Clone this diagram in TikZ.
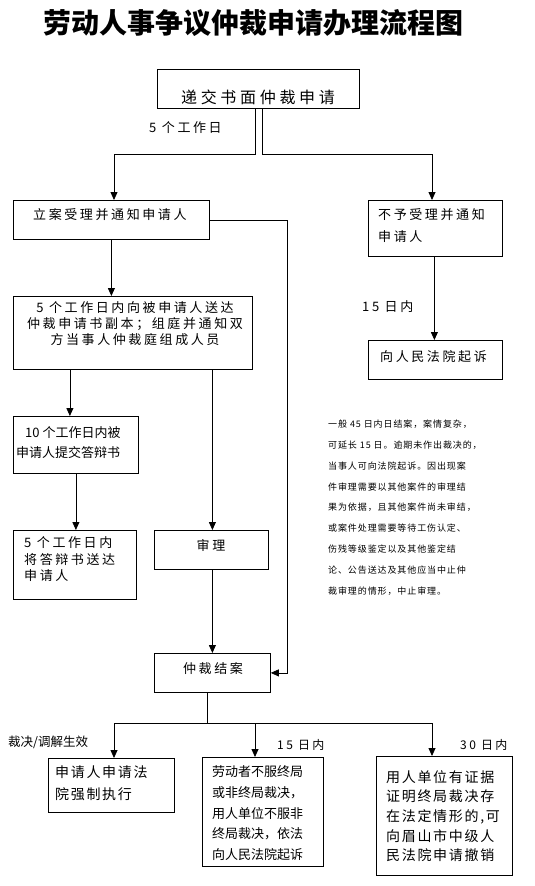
\documentclass[tikz,border=0pt]{standalone}
\usepackage{fontspec}
\usetikzlibrary{arrows.meta}
\newfontfamily\cjk{Noto Sans CJK SC}
\newfontfamily\cjkls{Noto Sans CJK SC}[LetterSpace=20]
\newfontfamily\cjkwide{Noto Sans CJK SC}[LetterSpace=23]
\newfontfamily\cjkmid{Noto Sans CJK SC}[LetterSpace=12]
\newfontfamily\cjknote{Noto Sans CJK SC}[LetterSpace=10]
\begin{document}
\begin{tikzpicture}[x=1pt,y=-1pt,
  box/.style={draw,line width=0.8pt,inner sep=0pt,anchor=north west},
  txt/.style={inner sep=0pt,align=left},
  arr/.style={line width=0.8pt,-{Triangle[width=7pt,length=8pt]}},
  ln/.style={line width=0.8pt},
  f13/.style={font=\cjkls\fontsize{13}{20}\selectfont},
]
\useasboundingbox (0,0) rectangle (535,886);
% title
\node[inner sep=0pt,font=\cjk\bfseries\fontsize{28}{30}\selectfont] (title) at (253,23) {劳动人事争议仲裁申请办理流程图};
% boxes
\node[box,minimum width=202pt,minimum height=39pt] (b1) at (157,69) {};
\node[box,minimum width=196pt,minimum height=39pt] (b2) at (13,200) {};
\node[box,minimum width=134pt,minimum height=56pt] (b3) at (368,200) {};
\node[box,minimum width=239pt,minimum height=73pt] (b4) at (13,296) {};
\node[box,minimum width=134pt,minimum height=39pt] (b5) at (368,340) {};
\node[box,minimum width=125pt,minimum height=57pt] (b6) at (13,416) {};
\node[box,minimum width=123pt,minimum height=69pt] (b7) at (13,530) {};
\node[box,minimum width=114pt,minimum height=39pt] (b8) at (154,530) {};
\node[box,minimum width=116pt,minimum height=39pt] (b9) at (154,653) {};
\node[box,minimum width=126pt,minimum height=54pt] (b10) at (48,758) {};
\node[box,minimum width=121pt,minimum height=109pt] (b11) at (202,757) {};
\node[box,minimum width=136pt,minimum height=119pt] (b12) at (376,756) {};
% box texts
\node[txt,font=\cjkwide\fontsize{16}{20}\selectfont] (t1) at (258,97) {递交书面仲裁申请};
\node[txt,f13,anchor=west] (t2) at (33,215) {立案受理并通知申请人};
\node[txt,anchor=north west,font=\cjkls\fontsize{13}{22}\selectfont] (t3) at (378,208.5) {不予受理并通知\\申请人};
\node[txt,align=center,anchor=north,font=\cjkls\fontsize{13}{16}\selectfont] (t4) at (135,301.5) {5 个工作日内向被申请人送达\\仲裁申请书副本；组庭并通知双\\方当事人仲裁庭组成人员};
\node[txt,f13,anchor=west] (t5) at (380,357) {向人民法院起诉};
\node[txt,anchor=north west,font=\cjk\fontsize{13}{20}\selectfont] (t6) at (16,426.5) {\hspace*{9pt}10 个工作日内被\\申请人提交答辩书};
\node[txt,anchor=north west,font=\cjkls\fontsize{13}{16.5}\selectfont] (t7) at (24,536.5) {5 个工作日内\\将答辩书送达\\申请人};
\node[txt,f13] (t8) at (211,545) {审理};
\node[txt,f13] (t9) at (213,669) {仲裁结案};
\node[txt,anchor=north west,font=\cjkmid\fontsize{14}{22}\selectfont] (t10) at (55,766) {申请人申请法\\院强制执行};
\node[txt,anchor=north west,font=\cjk\fontsize{13}{20.7}\selectfont] (t11) at (212,765.5) {劳动者不服终局\\或非终局裁决，\\用人单位不服非\\终局裁决，依法\\向人民法院起诉};
\node[txt,anchor=north west,font=\cjkmid\fontsize{14}{19.7}\selectfont] (t12) at (386,770) {用人单位有证据\\证明终局裁决存\\在法定情形的,可\\向眉山市中级人\\民法院申请撤销};
% labels
\node[txt,f13,anchor=west] (l1) at (149,128) {5 个工作日};
\node[txt,f13,anchor=west] (l2) at (362,307) {15 日内};
\node[txt,anchor=west,font=\cjk\fontsize{12.5}{15}\selectfont] (l3) at (8,742) {裁决/调解生效};
\node[txt,anchor=west,font=\cjkls\fontsize{12}{15}\selectfont] (l4) at (277,745) {15 日内};
\node[txt,anchor=west,font=\cjkls\fontsize{12}{15}\selectfont] (l5) at (460,745) {30 日内};
% note
\node[txt,anchor=north west,font=\cjknote\fontsize{9}{20.9}\selectfont] (note) at (328,419.5) {一般 45 日内日结案，案情复杂，\\可延长 15 日。逾期未作出裁决的，\\当事人可向法院起诉。因出现案\\件审理需要以其他案件的审理结\\果为依据，且其他案件尚未审结，\\或案件处理需要等待工伤认定、\\伤残等级鉴定以及其他鉴定结\\论、公告送达及其他应当中止仲\\裁审理的情形，中止审理。};
% coordinates
\coordinate (j1) at (114,154);
\coordinate (j2) at (432,154);
\coordinate (rx) at (287,0);
\coordinate (j4) at (207,723);
\coordinate (k1) at (114,723);
\coordinate (k2) at (255,723);
\coordinate (k3) at (432,723);
% connectors
\draw[arr] ([xshift=-3pt]b1.south) |- (j1) -- (j1 |- b2.north);
\draw[arr] ([xshift=4pt]b1.south) |- (j2) -- (j2 |- b3.north);
\draw[arr] (b2.south) -- (b2.south |- b4.north);
\draw[arr] (b2.east) -- (b2.east -| rx) -- (b9.east -| rx) -- (b9.east);
\draw[arr] ([xshift=-1pt]b3.south) -- ([xshift=-1pt]b3.south |- b5.north);
\draw[arr] ([xshift=-6pt]b6.north |- b4.south) -- ([xshift=-6pt]b6.north);
\draw[arr] (b6.south) -- (b6.south |- b7.north);
\draw[arr] ([xshift=1pt]b8.north |- b4.south) -- ([xshift=1pt]b8.north);
\draw[arr] ([xshift=1pt]b8.south) -- ([xshift=1pt]b8.south |- b9.north);
\draw[ln] (j4 |- b9.south) -- (j4);
\draw[ln] (k1) -- (k3);
\draw[arr] (k1) -- (k1 |- b10.north);
\draw[arr] (k2) -- (k2 |- b11.north);
\draw[arr] (k3) -- (k3 |- b12.north);
\end{tikzpicture}
\end{document}
